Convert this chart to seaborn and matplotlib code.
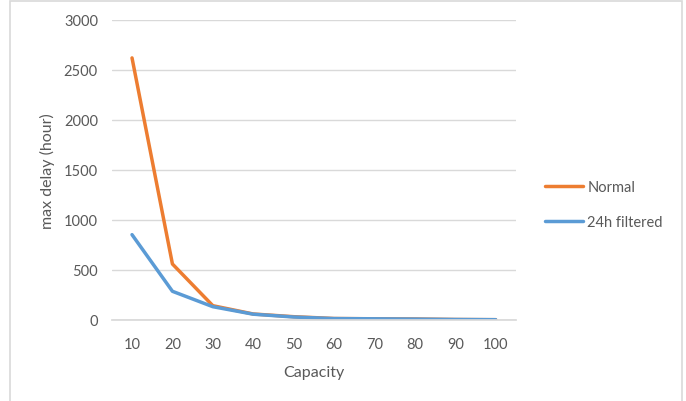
import matplotlib
matplotlib.use("Agg")
import matplotlib.pyplot as plt
import matplotlib.patches as mpatches
import seaborn as sns
import pandas as pd

capacity = ["10", "20", "30", "40", "50", "60", "70", "80", "90", "100"]
normal = [2620, 560, 143, 60, 33, 15, 12, 10, 5, 3]
filtered_24h = [853, 287, 133, 58, 30, 14, 12, 9, 5, 3]
series_names = ["Normal", "24h filtered"]
palette = {"Normal": "#ED7D31", "24h filtered": "#5B9BD5"}

df = pd.concat([
    pd.DataFrame({"Capacity": capacity, "delay": normal, "series": series_names[0]}),
    pd.DataFrame({"Capacity": capacity, "delay": filtered_24h, "series": series_names[1]}),
])

sns.set_theme(style="white")
plt.rcParams["font.family"] = ["Lato", "DejaVu Sans"]
text_color = "#595959"

fig = plt.figure(figsize=(6.86, 4.02), dpi=100)
ax = fig.add_axes([0.163, 0.2015, 0.589, 0.7465])

sns.lineplot(data=df, x="Capacity", y="delay", hue="series", palette=palette,
             linewidth=2.5, sort=False, ax=ax)

ax.set_xlim(-0.5, len(capacity) - 0.5)
ax.set_ylim(0, 3000)
ax.set_yticks(range(0, 3001, 500))
ax.yaxis.grid(True, color="#D9D9D9", linewidth=1)
ax.set_axisbelow(True)
for side in ["top", "right", "left"]:
    ax.spines[side].set_visible(False)
ax.spines["bottom"].set_color("#D9D9D9")
ax.tick_params(axis="both", length=0, labelsize=10.5, colors=text_color, pad=12)
ax.tick_params(axis="y", pad=10)

ax.set_xlabel("Capacity", fontsize=11.5, color=text_color, labelpad=10)
ax.set_ylabel("max delay (hour)", fontsize=11.5, color=text_color, labelpad=6)

handles, labels = ax.get_legend_handles_labels()
ax.legend(handles, labels, loc="center left", bbox_to_anchor=(1.04, 0.385),
          frameon=False, fontsize=10.5, labelcolor=text_color,
          handlelength=2.6, handletextpad=0.3, labelspacing=1.4)

border = mpatches.Rectangle((10 / 686, -0.02), 672 / 686, 1.02 - 2 / 402,
                            transform=fig.transFigure, fill=False,
                            edgecolor="#D9D9D9", linewidth=1.2)
fig.patches.append(border)

fig.savefig("out.png", dpi=100)
